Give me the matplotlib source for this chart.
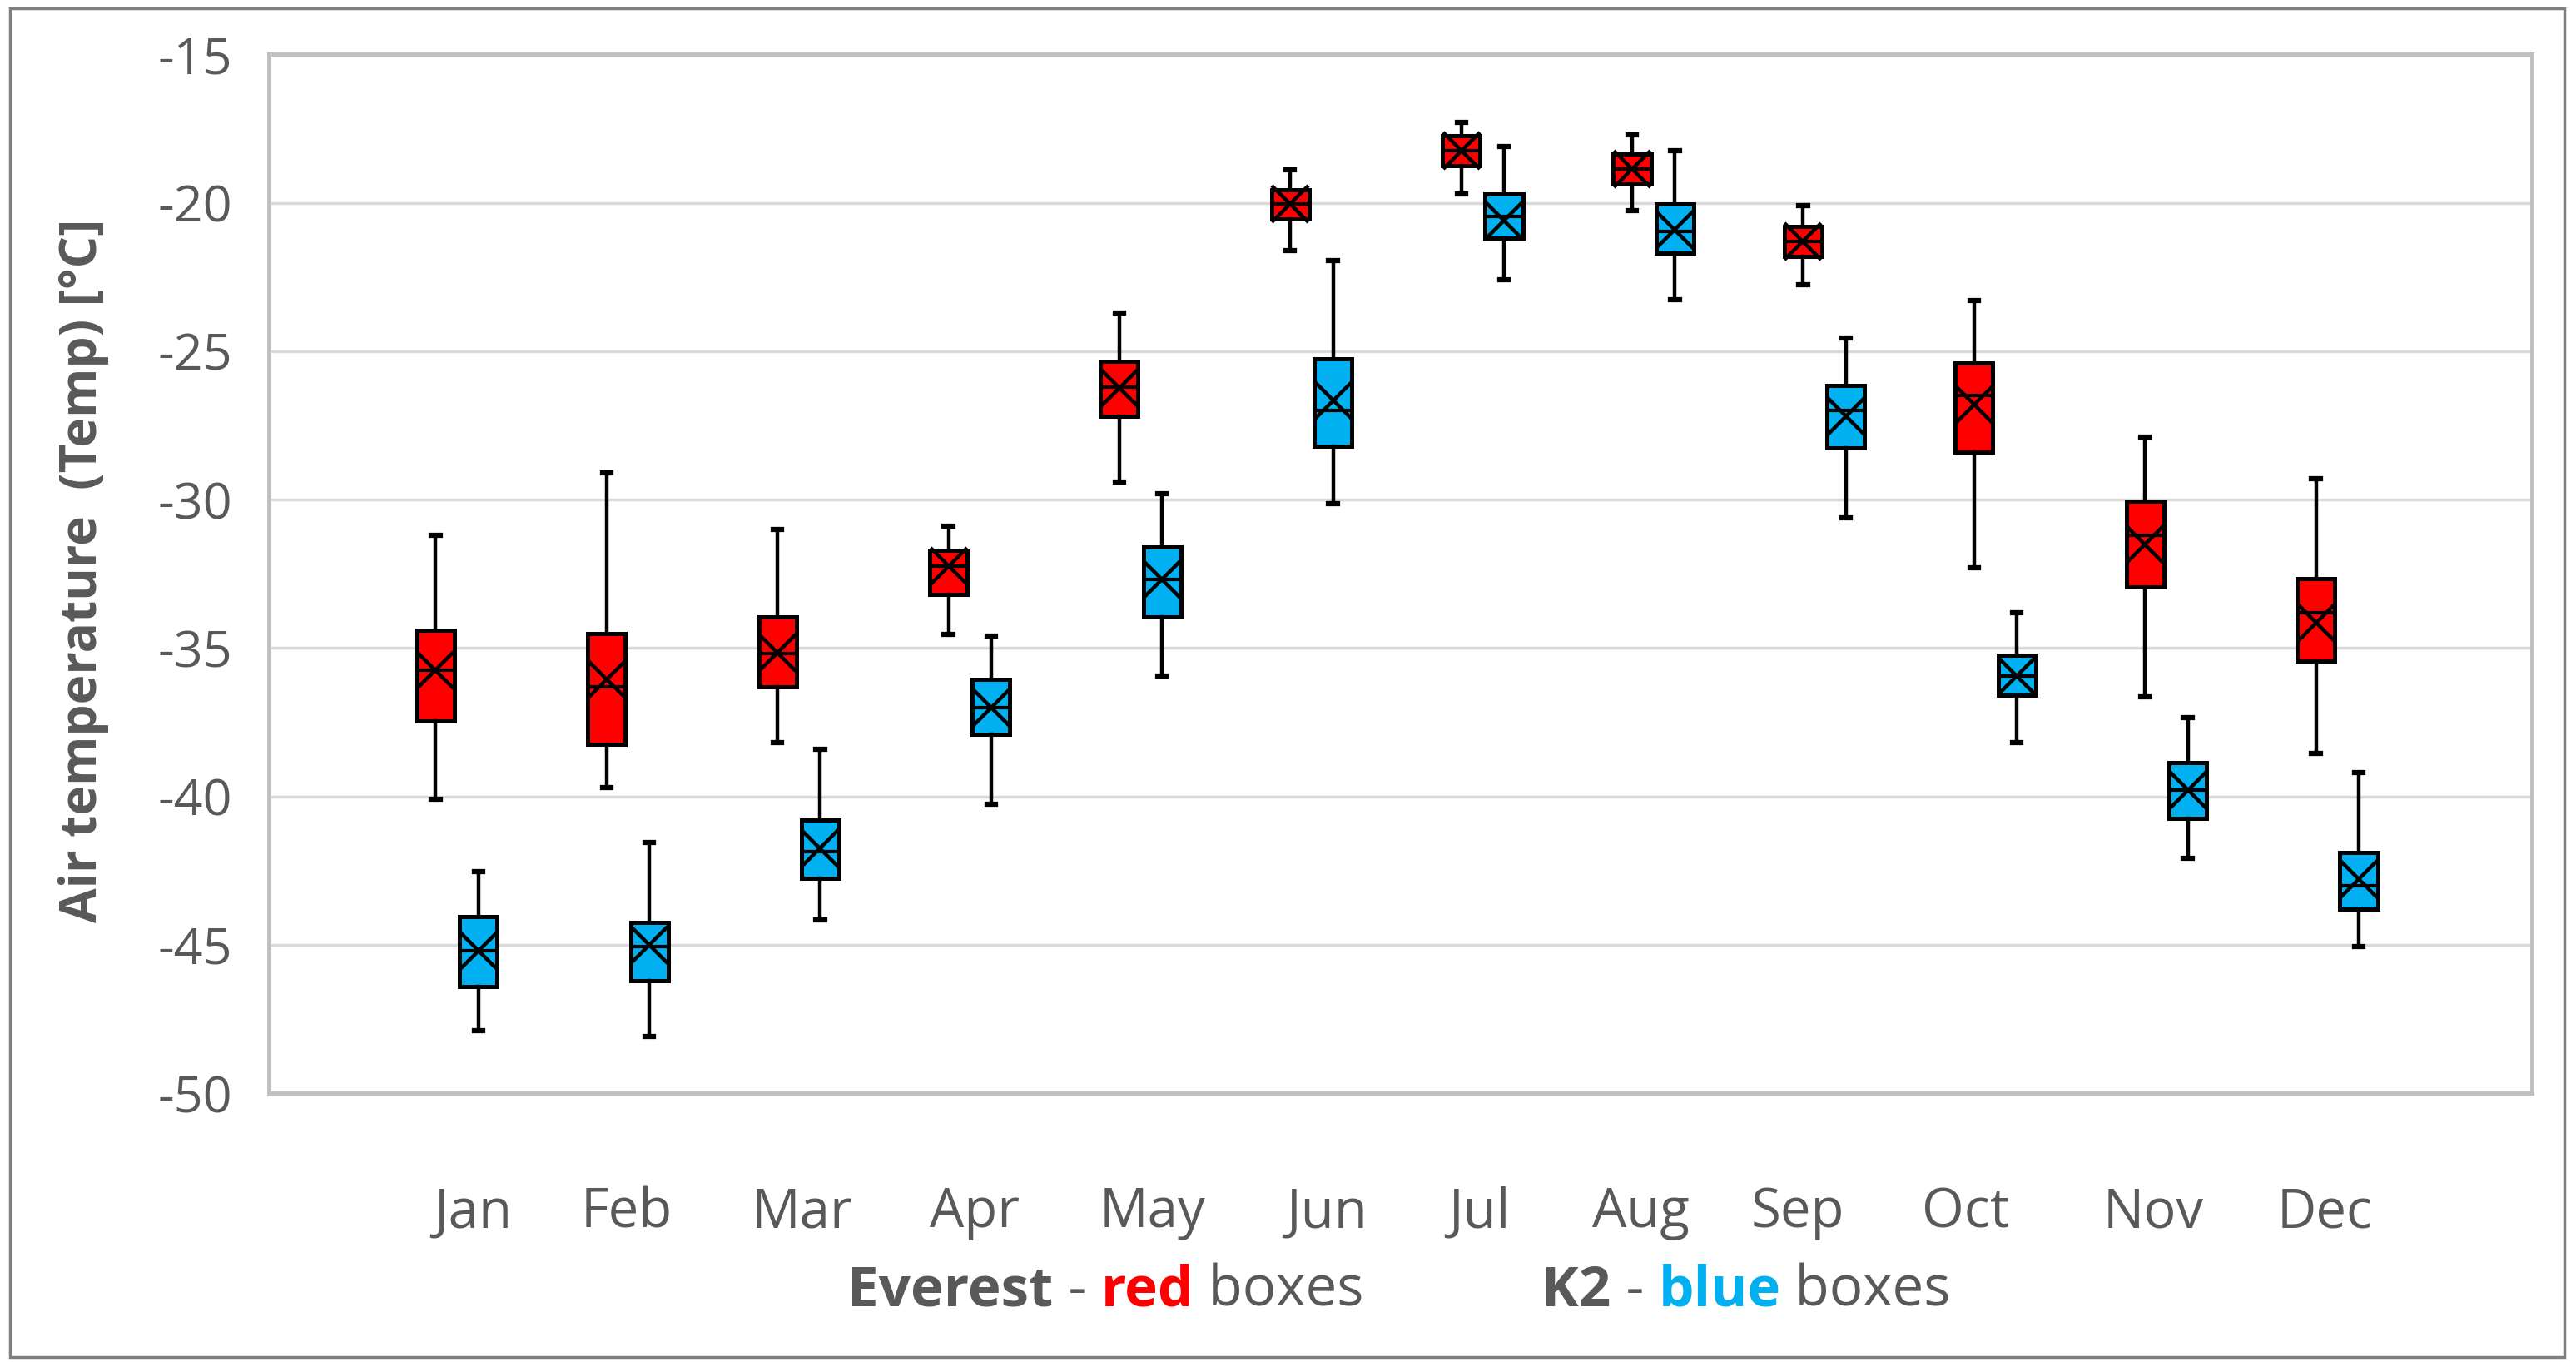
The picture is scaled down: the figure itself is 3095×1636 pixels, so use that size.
import matplotlib
matplotlib.use("Agg")
import matplotlib.pyplot as plt
from matplotlib.patches import Rectangle
from matplotlib.transforms import ScaledTranslation

months = ['Jan', 'Feb', 'Mar', 'Apr', 'May', 'Jun', 'Jul', 'Aug', 'Sep', 'Oct', 'Nov', 'Dec']

# Everest (red boxes)
ev_whishi = [-31.2, -29.1, -31.0, -30.9, -23.7, -18.9, -17.3, -17.7, -20.1, -23.3, -27.9, -29.3]
ev_q3     = [-34.4, -34.5, -33.95, -31.7, -25.35, -19.55, -17.75, -18.35, -20.8, -25.4, -30.05, -32.65]
ev_median = [-35.75, -36.3, -35.2, -32.25, -26.2, -20.05, -18.25, -18.85, -21.3, -26.5, -31.2, -33.8]
ev_mean   = [-35.75, -36.05, -35.15, -32.25, -26.25, -20.05, -18.25, -18.85, -21.3, -26.8, -31.5, -34.15]
ev_q1     = [-37.45, -38.25, -36.3, -33.2, -27.2, -20.55, -18.75, -19.35, -21.8, -28.4, -32.95, -35.45]
ev_whislo = [-40.1, -39.7, -38.2, -34.55, -29.4, -21.6, -19.7, -20.25, -22.75, -32.3, -36.65, -38.55]

# K2 (blue boxes)
k2_whishi = [-42.55, -41.55, -38.4, -34.6, -29.8, -21.95, -18.1, -18.25, -24.55, -33.8, -37.35, -39.2]
k2_q3     = [-44.05, -44.25, -40.8, -36.05, -31.6, -25.25, -19.7, -20.05, -26.15, -35.25, -38.85, -41.9]
k2_median = [-45.2, -45.05, -41.85, -37.0, -32.7, -27.0, -20.45, -20.95, -27.0, -35.95, -39.8, -43.0]
k2_mean   = [-45.2, -45.0, -41.75, -37.0, -32.7, -26.65, -20.6, -20.9, -27.2, -35.95, -39.8, -42.8]
k2_q1     = [-46.4, -46.2, -42.75, -37.9, -33.95, -28.2, -21.2, -21.7, -28.25, -36.6, -40.75, -43.8]
k2_whislo = [-47.9, -48.1, -44.15, -40.25, -35.95, -30.15, -22.6, -23.25, -30.6, -38.2, -42.1, -45.05]

y_ticks = [-15, -20, -25, -30, -35, -40, -45, -50]

RED = '#FF0000'
BLUE = '#00B0F0'
GRAY = '#595959'
FONT = 'Open Sans'

# horizontal nudges (points) of month labels, as laid out in the original
label_nudge_pt = [14, -1, 3, 4, 10, 13, -3, -11, -23, -26, -11, -11]

plt.rcParams['font.family'] = [FONT, 'DejaVu Sans']

fig = plt.figure(figsize=(30.95, 16.36), dpi=100)
ax = fig.add_axes([0.1044, 0.1974, 0.983 - 0.1044, 0.960 - 0.1974])


def stats(whishi, q3, med, mean, q1, whislo, label):
    out = []
    for i in range(len(med)):
        out.append(dict(whishi=whishi[i], q3=q3[i], med=med[i], mean=mean[i],
                        q1=q1[i], whislo=whislo[i], fliers=[], label=label))
    return out


ev_stats = stats(ev_whishi, ev_q3, ev_median, ev_mean, ev_q1, ev_whislo, 'Everest')
k2_stats = stats(k2_whishi, k2_q3, k2_median, k2_mean, k2_q1, k2_whislo, 'K2')

pos = list(range(len(months)))
off = 0.125
width = 0.22
for st, color, sgn in [(ev_stats, RED, -1), (k2_stats, BLUE, 1)]:
    ax.bxp(st, positions=[p + sgn * off for p in pos], widths=width,
           patch_artist=True, showmeans=True, showfliers=False,
           boxprops=dict(facecolor=color, edgecolor='black', linewidth=3.6),
           medianprops=dict(color='black', linewidth=3.0),
           whiskerprops=dict(color='black', linewidth=3.2),
           capprops=dict(color='black', linewidth=4.5),
           capwidths=0.05,
           meanprops=dict(marker='x', markeredgecolor='black', markersize=31,
                          markeredgewidth=3.2),
           manage_ticks=False, zorder=3)

ax.set_xlim(-1.10, 12.14)
ax.set_ylim(-50, -15)
ax.set_yticks(y_ticks)
ax.set_yticklabels([str(v) for v in y_ticks])
ax.set_xticks(pos)
ax.set_xticklabels(months)
ax.tick_params(axis='both', length=0, colors=GRAY, labelsize=44)
ax.tick_params(axis='x', labelsize=47, pad=80)
ax.tick_params(axis='y', pad=32)
for lab, dx in zip(ax.get_xticklabels(), label_nudge_pt):
    lab.set_transform(lab.get_transform() + ScaledTranslation(dx / 72, 0, fig.dpi_scale_trans))
ax.yaxis.grid(True, color='#d9d9d9', linewidth=2.5, zorder=0)
ax.set_axisbelow(True)
for s in ax.spines.values():
    s.set_color('#bfbfbf')
    s.set_linewidth(3.5)

fig.text(0.0325, 0.581, 'Air temperature  (Temp) [°C]', rotation=90,
         ha='center', va='center', fontsize=43.5, fontweight='bold', color=GRAY)


# Legend-like caption built from coloured pieces
def caption(x, y, pieces):
    t = fig.text(x, y, pieces[0][0], fontsize=48.5, color=pieces[0][1],
                 fontweight=pieces[0][2], ha='left', va='baseline')
    for txt, col, wt in pieces[1:]:
        t = ax.annotate(txt, xycoords=t, xy=(1, 0), va='bottom', ha='left',
                        fontsize=48.5, color=col, fontweight=wt,
                        annotation_clip=False)
    return t


caption(0.3290, 0.041, [('Everest', GRAY, 'bold'), (' - ', GRAY, 'normal'),
                        ('red', RED, 'bold'), (' boxes', GRAY, 'normal')])
caption(0.5985, 0.041, [('K2', GRAY, 'bold'), (' - ', GRAY, 'normal'),
                        ('blue', BLUE, 'bold'), (' boxes', GRAY, 'normal')])

# outer frame
fig.patches.append(Rectangle((12 / 3095, 6 / 1636), (3081 - 12) / 3095, (1630 - 10) / 1636,
                             transform=fig.transFigure, fill=False,
                             edgecolor='#7f7f7f', linewidth=2.5))

fig.savefig('out.png', dpi=100)
